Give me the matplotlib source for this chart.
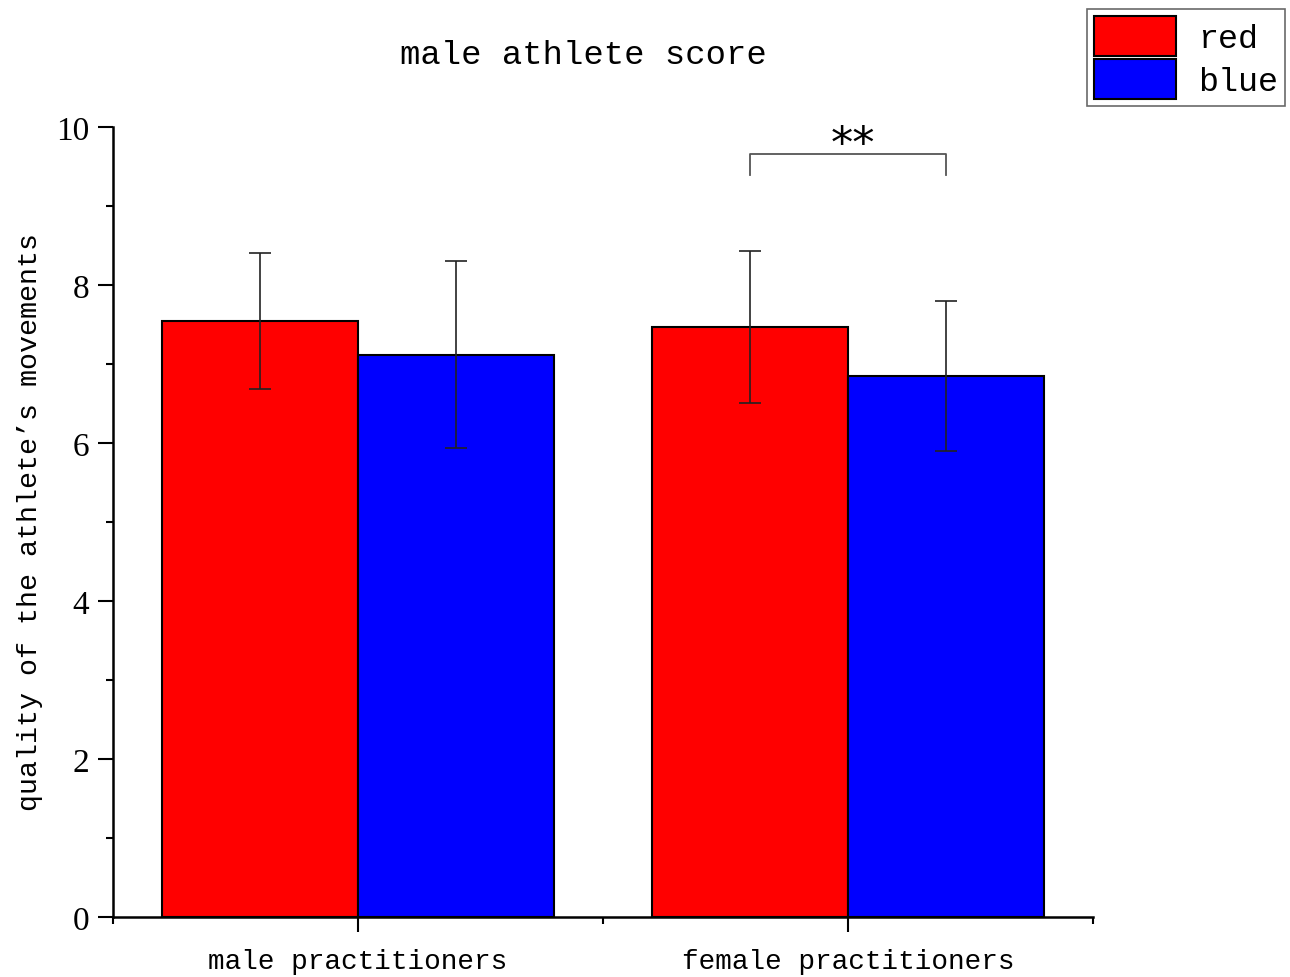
import numpy as np
import matplotlib.pyplot as plt
from matplotlib.ticker import MultipleLocator, FixedLocator

groups = ['male practitioners', 'female practitioners']
series = ['red', 'blue']
red_mean = [7.54, 7.47]
red_err = [0.86, 0.96]
blue_mean = [7.12, 6.85]
blue_err = [1.18, 0.95]

plt.rcParams['font.family'] = ['Liberation Mono', 'DejaVu Sans']

W, H = 1290, 978
fig = plt.figure(figsize=(W / 100, H / 100), dpi=100)
ax = fig.add_axes([113 / W, 1 - 918 / H, 980 / W, 790 / H])

x = np.arange(len(groups))
bw = 0.4
ekw = dict(elinewidth=1.2, capthick=1.2, ecolor='#222222')
b1 = ax.bar(x - bw / 2, red_mean, bw, yerr=red_err, color='#ff0000',
            edgecolor='black', linewidth=1.5, capsize=8, error_kw=ekw, label=series[0])
b2 = ax.bar(x + bw / 2, blue_mean, bw, yerr=blue_err, color='#0000ff',
            edgecolor='black', linewidth=1.5, capsize=8, error_kw=ekw, label=series[1])

# significance bracket over the female group
ax.plot([1 - bw / 2, 1 - bw / 2, 1 + bw / 2, 1 + bw / 2], [9.39, 9.66, 9.66, 9.39],
        color='#555555', lw=1.3, clip_on=False)
ax.text(1.01, 9.5, '**', ha='center', va='bottom', fontsize=32, family='DejaVu Sans')

ax.set_xlim(-0.5, 1.5)
ax.set_ylim(0, 10)
ax.set_xticks(x)
ax.set_xticklabels(groups, fontsize=20)
ax.xaxis.set_minor_locator(FixedLocator([-0.5, 0.5, 1.5]))
ax.yaxis.set_major_locator(MultipleLocator(2))
ax.yaxis.set_minor_locator(MultipleLocator(1))
ax.tick_params(axis='both', which='major', direction='out', length=11, width=1.5)
ax.tick_params(axis='both', which='minor', direction='out', length=5, width=1.5)
ax.tick_params(axis='x', which='major', pad=11)
ax.tick_params(axis='y', which='major', pad=6)
for t in ax.get_yticklabels():
    t.set_family('Liberation Serif')
    t.set_fontsize(24)

for s in ['top', 'right']:
    ax.spines[s].set_visible(False)
for s in ['left', 'bottom']:
    ax.spines[s].set_linewidth(1.8)

fig.text(30 / W, 1 - 522 / H, 'quality of the athlete’s movements', rotation=90,
         ha='center', va='center', fontsize=20.4)
fig.text(583 / W, 1 - 55 / H, 'male athlete score', ha='center', va='center', fontsize=24.4)

leg = fig.legend(handles=[b1, b2], labels=series, loc='upper right',
                 bbox_to_anchor=(1285 / W, 1 - 10 / H), fontsize=24, frameon=True,
                 fancybox=False, edgecolor='#444444', handlelength=2.46,
                 handleheight=1.45, labelspacing=0.1, borderpad=0.22,
                 handletextpad=0.65, borderaxespad=0)
leg.get_frame().set_linewidth(1.2)

fig.savefig('out.png', dpi=100)
